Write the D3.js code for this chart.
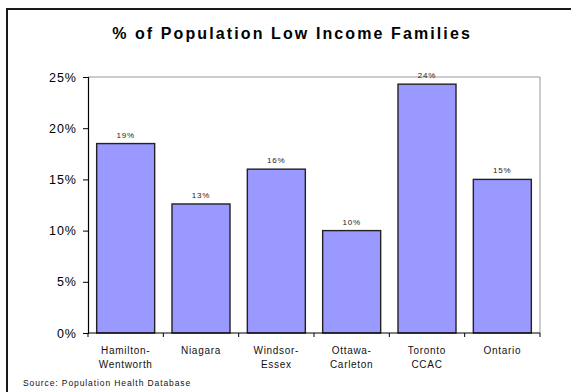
<!DOCTYPE html>
<html>
<head>
<meta charset="utf-8">
<script src="https://cdn.jsdelivr.net/npm/d3@7"></script>
<style>
  html, body { margin: 0; padding: 0; background: #fff; }
  svg { display: block; font-family: "Liberation Sans", Arial, sans-serif; }
</style>
</head>
<body>
<svg id="chart" width="571" height="392"></svg>
<script>
// Share of population in low income families, by region (percent)
const regions = [
  ["Hamilton-", "Wentworth"],
  ["Niagara"],
  ["Windsor-", "Essex"],
  ["Ottawa-", "Carleton"],
  ["Toronto", "CCAC"],
  ["Ontario"]
];
const lowIncomePct = [18.5, 12.6, 16.0, 10.0, 24.3, 15.0];
const yTicks = [0, 5, 10, 15, 20, 25];
const titleText = "% of Population Low Income Families";
const sourceText = "Source:  Population Health Database";

const svg = d3.select("#chart");
const plot = { left: 88, right: 540, top: 77, bottom: 333 };

// Outer chart frame (continues past the right and bottom edges)
svg.append("rect")
  .attr("x", 7).attr("y", 9)
  .attr("width", 620).attr("height", 420)
  .attr("fill", "#fff")
  .attr("stroke", "#1a1a1a")
  .attr("stroke-width", 2);

const keys = regions.map((r, i) => i);
const x = d3.scaleBand().domain(keys).range([plot.left, plot.right]).paddingInner(0.23).paddingOuter(0.115);
const y = d3.scaleLinear().domain([0, 25]).range([plot.bottom, plot.top]);

// Title
svg.append("text")
  .attr("x", 292).attr("y", 39)
  .attr("text-anchor", "middle")
  .attr("font-size", 16)
  .attr("font-weight", "bold")
  .attr("letter-spacing", 2.1)
  .attr("fill", "#000")
  .text(titleText);

// Top and right plot border in grey
svg.append("path")
  .attr("d", `M${plot.left},${plot.top}H${plot.right}V${plot.bottom}`)
  .attr("fill", "none")
  .attr("stroke", "#9a9a9a")
  .attr("stroke-width", 1);

// Bars
svg.append("g").selectAll("rect")
  .data(lowIncomePct)
  .join("rect")
  .attr("x", (d, i) => x(i))
  .attr("y", d => y(d))
  .attr("width", x.bandwidth())
  .attr("height", d => y(0) - y(d))
  .attr("fill", "#9999FF")
  .attr("stroke", "#222")
  .attr("stroke-width", 1.4);

// Value labels above bars
svg.append("g").selectAll("text")
  .data(lowIncomePct)
  .join("text")
  .attr("x", (d, i) => x(i) + x.bandwidth() / 2)
  .attr("y", d => y(d) - 6)
  .attr("text-anchor", "middle")
  .attr("font-size", 8)
  .attr("letter-spacing", 0.8)
  .attr("fill", "#222")
  .text(d => Math.round(d) + "%");

// Y axis
const yAxis = svg.append("g")
  .attr("transform", `translate(${plot.left},0)`)
  .call(d3.axisLeft(y).tickValues(yTicks).tickSize(5).tickPadding(6).tickFormat(d => d + "%"));
yAxis.select(".domain").attr("stroke", "#000").attr("stroke-width", 1.2);
yAxis.selectAll(".tick line").attr("stroke", "#000");
yAxis.selectAll(".tick text")
  .attr("font-size", 12.5)
  .attr("letter-spacing", 1)
  .attr("fill", "#000")
  .attr("font-family", "Liberation Sans, Arial, sans-serif");

// X axis: baseline with tick marks between categories
const xg = svg.append("g");
xg.append("line")
  .attr("x1", plot.left).attr("x2", plot.right)
  .attr("y1", plot.bottom).attr("y2", plot.bottom)
  .attr("stroke", "#000").attr("stroke-width", 1.2);
const boundaries = d3.range(keys.length + 1).map(i => plot.left + i * (plot.right - plot.left) / keys.length);
xg.selectAll("line.tk")
  .data(boundaries)
  .join("line")
  .attr("class", "tk")
  .attr("x1", d => d).attr("x2", d => d)
  .attr("y1", plot.bottom).attr("y2", plot.bottom + 4)
  .attr("stroke", "#000");

// Category labels
const cat = xg.selectAll("text.cat")
  .data(regions)
  .join("text")
  .attr("class", "cat")
  .attr("text-anchor", "middle")
  .attr("font-size", 10)
  .attr("letter-spacing", 0.7)
  .attr("fill", "#111");
cat.each(function (lines, i) {
  const t = d3.select(this);
  lines.forEach((ln, j) => {
    t.append("tspan")
      .attr("x", x(i) + x.bandwidth() / 2)
      .attr("y", 354 + j * 13.5)
      .text(ln);
  });
});

// Source note
svg.append("text")
  .attr("x", 23).attr("y", 386)
  .attr("font-size", 8.5)
  .attr("letter-spacing", 0.9)
  .attr("fill", "#111")
  .text(sourceText);
</script>
</body>
</html>
